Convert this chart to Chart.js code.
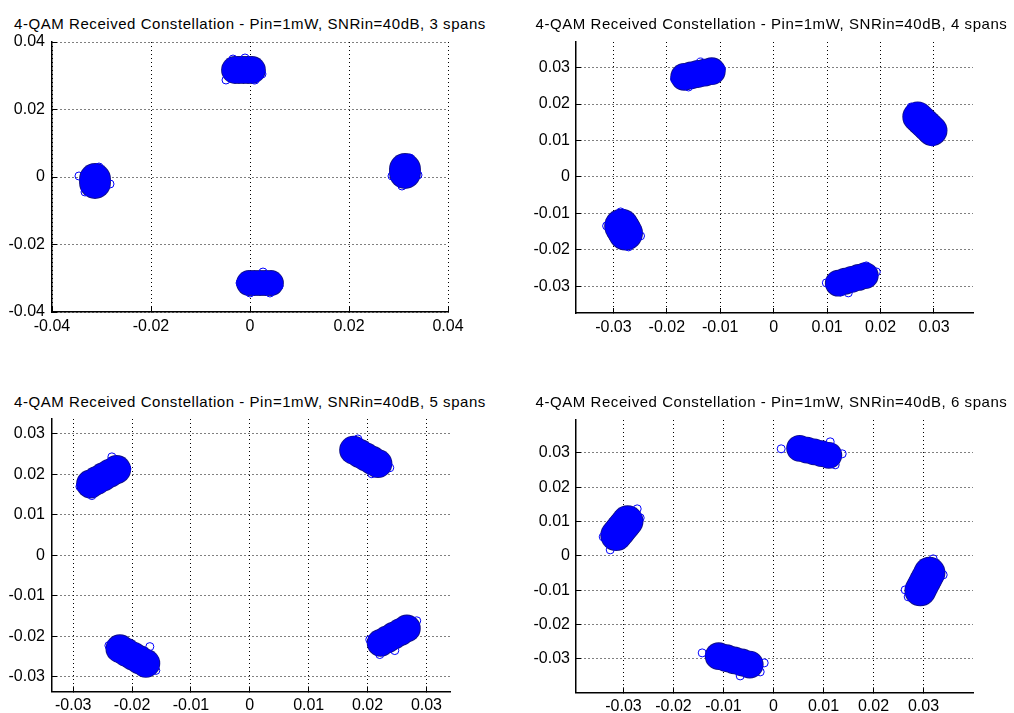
<!DOCTYPE html>
<html>
<head>
<meta charset="utf-8">
<title>4-QAM Received Constellation</title>
<script src="https://cdn.jsdelivr.net/npm/chart.js@4.4.0/dist/chart.umd.min.js"></script>
<style>
  html, body { margin: 0; padding: 0; background: #fff; }
  body { position: relative; width: 1014px; height: 713px; overflow: hidden; font-family: "Liberation Sans", Arial, sans-serif; }
  canvas { position: absolute; }
  .title { position: absolute; width: 600px; text-align: center; white-space: nowrap;
           font-size: 15px; line-height: 15px; letter-spacing: 0.55px; color: #000; }
</style>
</head>
<body>
<script>
// span counts shown in the four titles
const spanCounts = [3, 4, 5, 6];

// axis limits [min, max] and tick step of each panel
const xLimits = [[-0.04, 0.04], [-0.037, 0.0373], [-0.0336, 0.0340], [-0.0395, 0.0399]];
const yLimits = [[-0.04, 0.04], [-0.0373, 0.037], [-0.0336, 0.0336], [-0.0398, 0.0396]];
const tickSteps = [0.02, 0.01, 0.01, 0.01];

// received symbols, one array per constellation cluster (points along the cluster's long side)
// 3 spans
const span3Top    = [[-0.00303, 0.0317], [-0.00222, 0.0317], [-0.00131, 0.0317], [-0.0004, 0.0317], [0.0004, 0.0317]];
const span3Bottom = [[-0.0002, -0.03141], [0.00091, -0.03141], [0.00202, -0.03141], [0.00313, -0.03141], [0.00424, -0.03141]];
const span3Left   = [[-0.03131, -0.00059], [-0.03131, -0.00178]];
const span3Right  = [[0.03131, 0.00237], [0.03131, 0.00119]];
const span3Rim = [
  [0.00242, 0.03052], [-0.00485, 0.02874], [-0.00101, 0.03526], [0.00101, 0.02874], [-0.00343, 0.03496],
  [-0.00202, -0.03141], [0.00586, -0.0323], [0.00263, -0.02815], [0, -0.03437], [0.00404, -0.03437],
  [-0.03455, 0.0003], [-0.02828, -0.00207], [-0.03051, 0.00296], [-0.03333, -0.00444],
  [0.03071, -0.00267], [0.03394, 0.00059], [0.02869, 0.0003], [0.03232, 0.00563]
];

// 4 spans
const span4Top    = [[-0.01675, 0.02745], [-0.01546, 0.02784], [-0.01417, 0.02822], [-0.01288, 0.0286], [-0.01159, 0.02899]];
const span4Right  = [[0.02695, 0.01649], [0.02763, 0.01553], [0.0283, 0.0146], [0.02897, 0.01364], [0.02964, 0.01271]];
const span4Left   = [[-0.02847, -0.01348], [-0.02809, -0.01444], [-0.02772, -0.0154]];
const span4Bottom = [[0.01209, -0.02912], [0.01336, -0.0286], [0.01462, -0.02808], [0.01587, -0.02756], [0.01714, -0.02704]];
const span4Rim = [
  [-0.01856, 0.02685], [-0.00978, 0.02959], [-0.0137, 0.03151], [-0.01594, 0.02466], [-0.01146, 0.02658],
  [0.03153, 0.0126], [0.02966, 0.00959], [0.02574, 0.01918],
  [-0.03127, -0.01342], [-0.02492, -0.01616], [-0.02716, -0.01918], [-0.02865, -0.00959],
  [0.00985, -0.02904], [0.0192, -0.02603], [0.01396, -0.03178], [0.01733, -0.02438], [0.01247, -0.03151]
];

// 5 spans
const span5TopLeft     = [[-0.02706, 0.01757], [-0.02594, 0.01846], [-0.02484, 0.01936], [-0.02372, 0.02027], [-0.02261, 0.02115]];
const span5TopRight    = [[0.01762, 0.02593], [0.01866, 0.0251], [0.01969, 0.02426], [0.02073, 0.02343], [0.02177, 0.0226]];
const span5BottomLeft  = [[-0.02207, -0.02306], [-0.02097, -0.02397], [-0.01986, -0.02488], [-0.01876, -0.02578], [-0.01766, -0.02669]];
const span5BottomRight = [[0.02222, -0.02164], [0.02333, -0.02076], [0.02445, -0.01985], [0.02557, -0.01897], [0.02667, -0.01806]];
const span5Rim = [
  [-0.02886, 0.01691], [-0.02683, 0.01471], [-0.02343, 0.02426], [-0.02088, 0.02132],
  [0.02071, 0.0201], [0.0163, 0.02696], [0.02377, 0.02157], [0.01834, 0.02868],
  [-0.01596, -0.02843], [-0.01698, -0.02255], [-0.02394, -0.0223],
  [0.02037, -0.02083], [0.02835, -0.01618], [0.02462, -0.02353], [0.02207, -0.02451]
];

// 6 spans
const span6Top    = [[0.00522, 0.03134], [0.00668, 0.03082], [0.00814, 0.03032], [0.0096, 0.0298], [0.01106, 0.0293]];
const span6Left   = [[-0.03146, 0.00603], [-0.03088, 0.00706], [-0.03032, 0.00808], [-0.02974, 0.0091], [-0.02918, 0.01012]];
const span6Right  = [[0.02936, -0.01009], [0.02982, -0.00878], [0.03028, -0.00749], [0.03074, -0.00621], [0.0312, -0.0049]];
const span6Bottom = [[-0.01096, -0.02924], [-0.0094, -0.02985], [-0.00786, -0.03047], [-0.00632, -0.03108], [-0.00476, -0.03169]];
const span6Rim = [
  [0.00154, 0.0312], [0.01234, 0.02653], [0.01374, 0.02974], [0.01134, 0.03324],
  [-0.03266, 0.00175], [-0.02726, 0.0137], [-0.03406, 0.00554], [-0.02666, 0.01108],
  [0.02694, -0.01195], [0.03394, -0.00554], [0.02634, -0.00991], [0.03194, -0.00087],
  [-0.01426, -0.02828], [-0.00266, -0.03382], [-0.00186, -0.0312], [-0.00666, -0.03499]
];

const clusterSets = [
  [span3Top, span3Bottom, span3Left, span3Right],
  [span4Top, span4Right, span4Left, span4Bottom],
  [span5TopLeft, span5TopRight, span5BottomLeft, span5BottomRight],
  [span6Top, span6Left, span6Right, span6Bottom]
];
const rimSets = [span3Rim, span4Rim, span5Rim, span6Rim];

// where each subplot sits on the page, plus marker radius (px) used for each cluster
const panels = [
  { left: 0,   top: 0,   w: 500, h: 345, yw: 52, padR: 52, padT: 42, xh: 33, xPad: 9.5, yPad: 12, titleTop: 16.3, titleCx: 250,   radius: [13, 12, 15, 15] },
  { left: 500, top: 0,   w: 514, h: 345, yw: 76, padR: 41, padT: 42, xh: 32, xPad: 9.5, yPad: 11, titleTop: 16.3, titleCx: 771.5, radius: [13, 14.5, 16.5, 12.5] },
  { left: 0,   top: 345, w: 500, h: 368, yw: 52, padR: 50, padT: 74, xh: 20, xPad: 10,  yPad: 12, titleTop: 394,  titleCx: 250,   radius: [13.5, 13.5, 13.5, 13] },
  { left: 500, top: 345, w: 514, h: 368, yw: 76, padR: 41, padT: 75, xh: 20, xPad: 9.5, yPad: 11, titleTop: 394,  titleCx: 771.5, radius: [12.5, 15, 15, 13] }
];

const fontFamily = "'Liberation Sans', Arial, Helvetica, sans-serif";
const markerBlue = '#0000ff';
const markerEdge = '#10108a';

// matlab style tick text: 0, 0.01, -0.02 ...
function tickText(v) {
  const r = Math.round(v * 100) / 100;
  return r === 0 ? '0' : String(r);
}

function axisOptions(lim, step, padding, fitFn) {
  return {
    type: 'linear',
    min: lim[0],
    max: lim[1],
    afterFit: fitFn,
    ticks: {
      stepSize: step,
      includeBounds: false,
      autoSkip: false,
      maxRotation: 0,
      padding: padding,
      color: '#000',
      font: { family: fontFamily, size: 16 },
      callback: tickText
    },
    grid: {
      color: '#000',
      lineWidth: 1,
      drawTicks: true,
      tickLength: -5,      // matlab ticks point inwards
      tickColor: '#000',
      tickWidth: 1,
      tickBorderDash: []
    },
    border: { display: true, color: '#000', width: 1.5, dash: [1, 3] }
  };
}

panels.forEach((p, i) => {
  // title
  const t = document.createElement('div');
  t.className = 'title';
  t.style.left = (p.titleCx - 300) + 'px';
  t.style.top = p.titleTop + 'px';
  t.textContent = '4-QAM Received Constellation - Pin=1mW, SNRin=40dB, ' + spanCounts[i] + ' spans';
  document.body.appendChild(t);

  // canvas
  const cv = document.createElement('canvas');
  cv.width = p.w;
  cv.height = p.h;
  cv.style.left = p.left + 'px';
  cv.style.top = p.top + 'px';
  document.body.appendChild(cv);

  // lower order is drawn on top: rim circles, then filled clusters, then their dark edge
  const datasets = [{
    label: 'rim',
    order: 0,
    data: rimSets[i],
    pointRadius: 4,
    pointBackgroundColor: 'rgba(0,0,0,0)',
    pointBorderColor: markerBlue,
    pointBorderWidth: 1
  }];
  clusterSets[i].forEach((pts, k) => {
    datasets.push({
      label: 'cluster ' + (k + 1),
      order: 1,
      data: pts,
      pointRadius: p.radius[k],
      pointBackgroundColor: markerBlue,
      pointBorderWidth: 0
    });
    datasets.push({
      label: 'cluster edge ' + (k + 1),
      order: 2,
      data: pts,
      pointRadius: p.radius[k] + 0.9,
      pointBackgroundColor: markerEdge,
      pointBorderWidth: 0
    });
  });

  new Chart(cv.getContext('2d'), {
    type: 'scatter',
    data: { datasets: datasets },
    options: {
      responsive: false,
      animation: false,
      events: [],
      layout: { autoPadding: false, padding: { left: 0, right: p.padR, top: p.padT, bottom: 0 } },
      plugins: { legend: { display: false }, tooltip: { enabled: false } },
      scales: {
        x: axisOptions(xLimits[i], tickSteps[i], p.xPad, s => { s.height = p.xh; }),
        y: axisOptions(yLimits[i], tickSteps[i], p.yPad, s => { s.width = p.yw; })
      }
    }
  });
});
</script>
</body>
</html>
